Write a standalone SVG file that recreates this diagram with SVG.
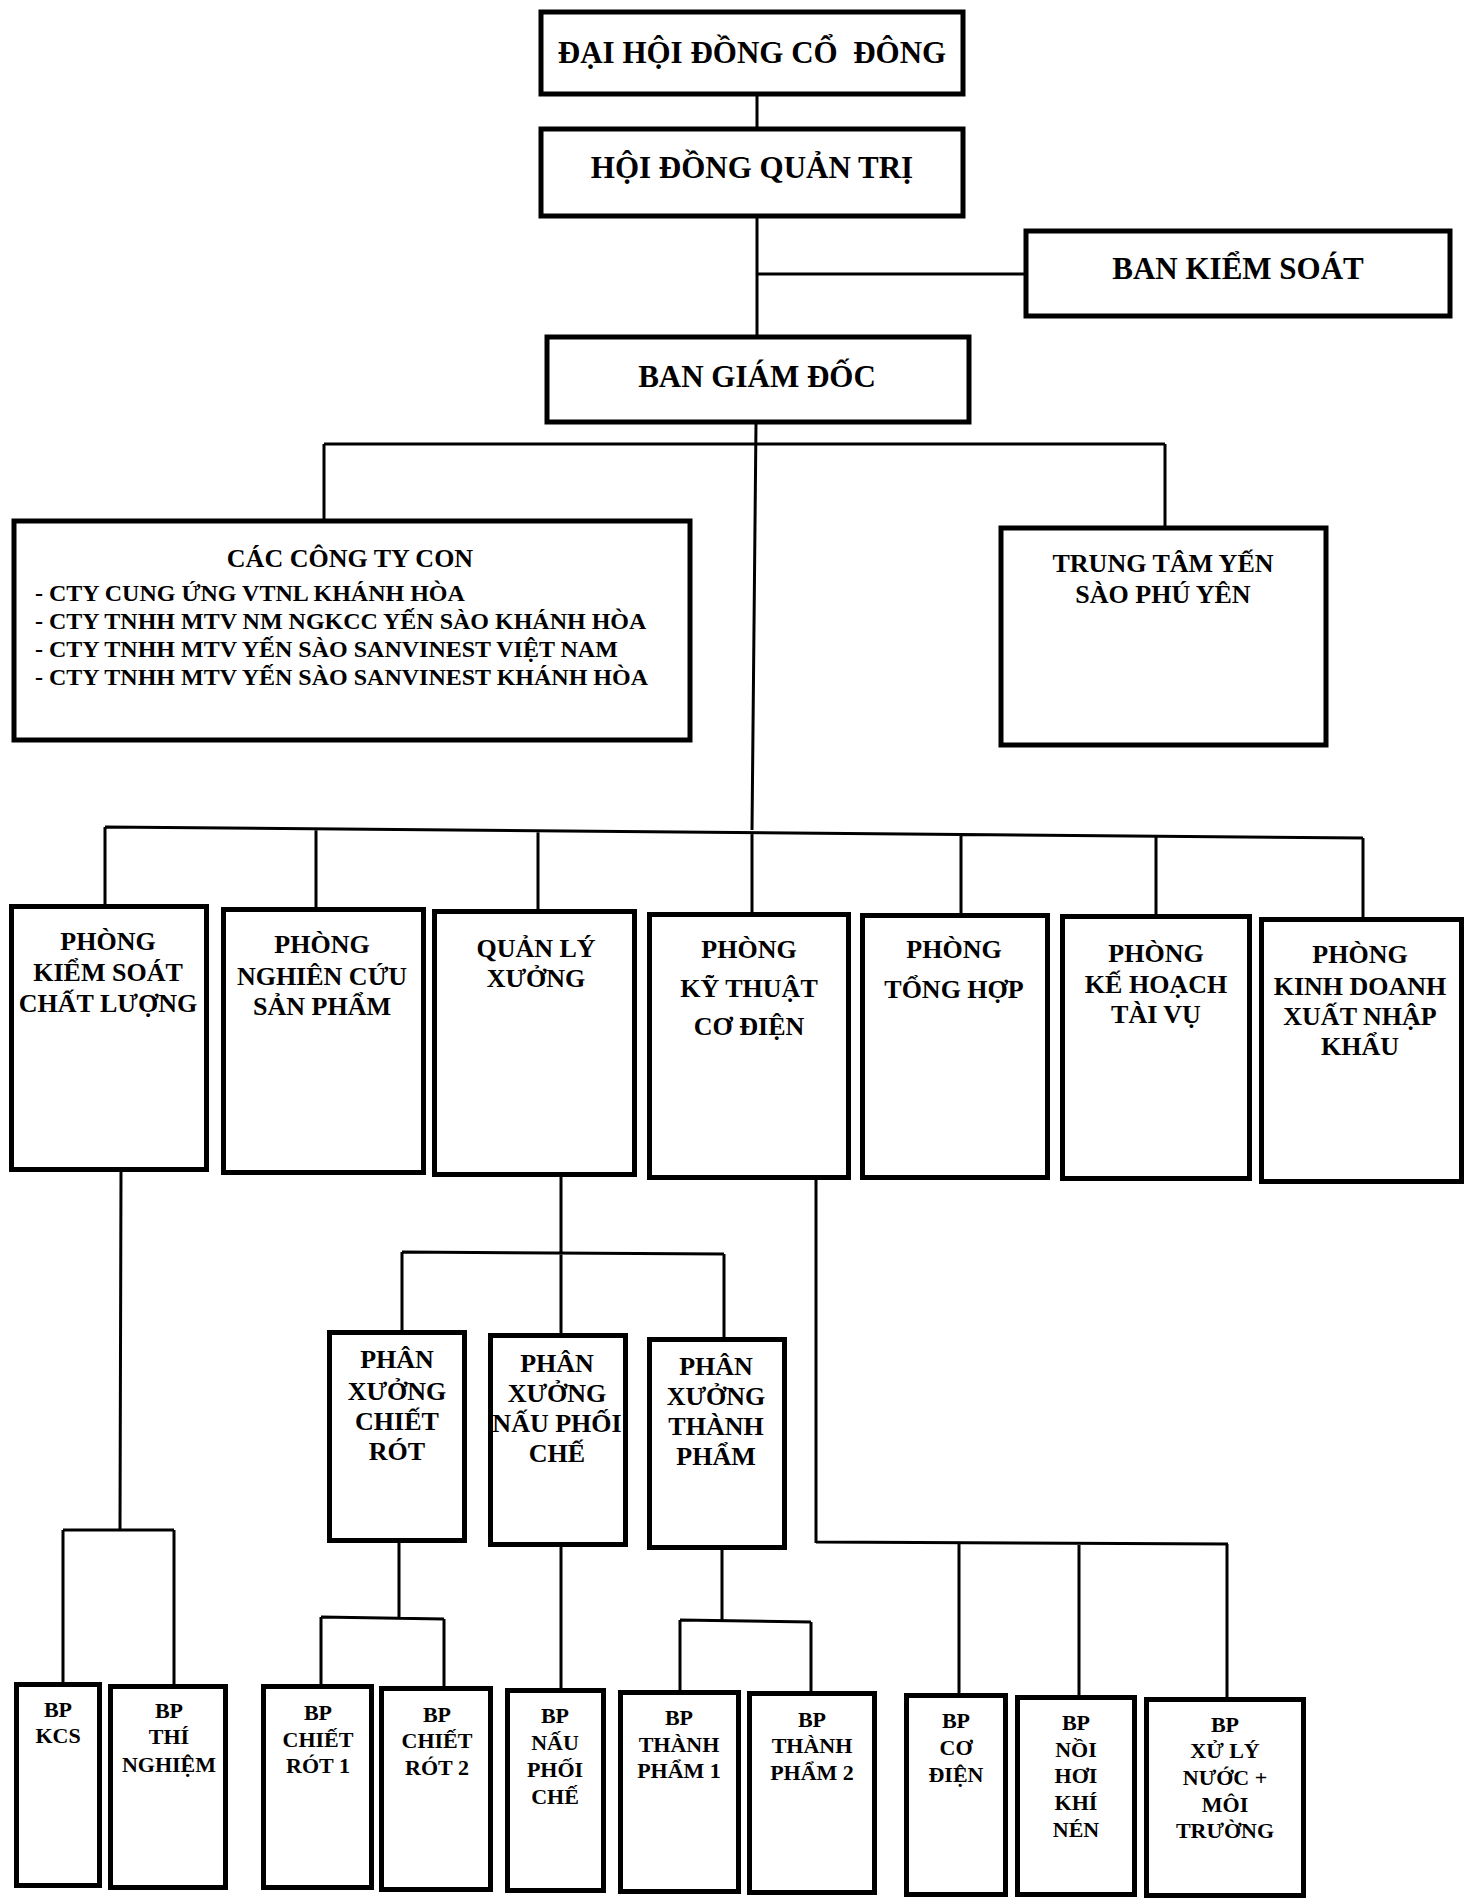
<svg xmlns="http://www.w3.org/2000/svg" width="1474" height="1898" viewBox="0 0 1474 1898">
<style>
.box{fill:#fff;stroke:#000;stroke-width:5}
.ln{stroke:#000;stroke-width:3;fill:none}
text{font-family:"Liberation Serif","Times New Roman",serif;font-weight:bold;fill:#000;text-anchor:middle}
.t1{font-size:31px}
.t2{font-size:26px}
.t3{font-size:24px;text-anchor:start}
.t4{font-size:22px}
</style>
<rect width="1474" height="1898" fill="#fff"/>
<g id="connectors">
<path class="ln" d="M757,94V129M757,216V337M757,274H1025M756,423L752,830"/>
<path class="ln" d="M324,444H1165M324,444V521M1165,444V528"/>
<path class="ln" d="M105,827L1363,838M105,827V906M316,829V909M538,831V911M752,833V914M961,834V915M1156,836V916M1363,838V919"/>
<path class="ln" d="M121,1172L120,1530M63,1530H174M63,1530V1683M174,1530V1685"/>
<path class="ln" d="M561,1177V1253M402,1252L724,1254M402,1252V1331M561,1253V1334M724,1254V1338"/>
<path class="ln" d="M816,1180V1543M816,1542L1228,1544M959,1543V1694M1079,1543V1696M1227,1544V1698"/>
<path class="ln" d="M399,1543V1618M321,1617L444,1619M321,1617V1685M444,1619V1687"/>
<path class="ln" d="M561,1547V1689"/>
<path class="ln" d="M722,1550V1621M680,1620L811,1622M680,1620V1691M811,1622V1692"/>
</g>
<g id="dai-hoi-dong-co-dong"><rect class="box" x="541" y="12" width="422" height="82"/><text class="t1" x="752" y="63" style="white-space:pre">ĐẠI HỘI ĐỒNG CỔ  ĐÔNG</text></g>
<g id="hoi-dong-quan-tri"><rect class="box" x="541" y="129" width="422" height="87"/><text class="t1" x="752" y="178">HỘI ĐỒNG QUẢN TRỊ</text></g>
<g id="ban-kiem-soat"><rect class="box" x="1026" y="231" width="424" height="85"/><text class="t1" x="1238" y="279">BAN KIỂM SOÁT</text></g>
<g id="ban-giam-doc"><rect class="box" x="547" y="337" width="422" height="85"/><text class="t1" x="757" y="387">BAN GIÁM ĐỐC</text></g>
<g id="cac-cong-ty-con"><rect class="box" x="14" y="521" width="676" height="219"/>
<text class="t2" x="350" y="567">CÁC CÔNG TY CON</text>
<text class="t3" x="35" y="601">- CTY CUNG ỨNG VTNL KHÁNH HÒA</text>
<text class="t3" x="35" y="629">- CTY TNHH MTV NM NGKCC YẾN SÀO KHÁNH HÒA</text>
<text class="t3" x="35" y="657">- CTY TNHH MTV YẾN SÀO SANVINEST VIỆT NAM</text>
<text class="t3" x="35" y="685">- CTY TNHH MTV YẾN SÀO SANVINEST KHÁNH HÒA</text></g>
<g id="trung-tam-yen-sao-phu-yen"><rect class="box" x="1001" y="528" width="325" height="217"/><text class="t2"><tspan x="1163" y="572">TRUNG TÂM YẾN</tspan><tspan x="1163" y="603">SÀO PHÚ YÊN</tspan></text></g>
<g id="phong-kscl"><rect class="box" x="11.5" y="906.5" width="195" height="263"/><text class="t2"><tspan x="108" y="950">PHÒNG</tspan><tspan x="108" y="981">KIỂM SOÁT</tspan><tspan x="108" y="1012">CHẤT LƯỢNG</tspan></text></g>
<g id="phong-nckh"><rect class="box" x="223.5" y="909.5" width="200" height="263"/><text class="t2"><tspan x="322" y="953">PHÒNG</tspan><tspan x="322" y="985">NGHIÊN CỨU</tspan><tspan x="322" y="1015">SẢN PHẨM</tspan></text></g>
<g id="quan-ly-xuong"><rect class="box" x="434.5" y="911.5" width="200" height="263"/><text class="t2"><tspan x="536" y="957">QUẢN LÝ</tspan><tspan x="536" y="987">XƯỞNG</tspan></text></g>
<g id="phong-ktcd"><rect class="box" x="649.5" y="914.5" width="199" height="263"/><text class="t2"><tspan x="749" y="958">PHÒNG</tspan><tspan x="749" y="997">KỸ THUẬT</tspan><tspan x="749" y="1035">CƠ ĐIỆN</tspan></text></g>
<g id="phong-tong-hop"><rect class="box" x="862.5" y="915.5" width="185" height="262"/><text class="t2"><tspan x="954" y="958">PHÒNG</tspan><tspan x="954" y="998">TỔNG HỢP</tspan></text></g>
<g id="phong-khtv"><rect class="box" x="1062.5" y="916.5" width="187" height="262"/><text class="t2"><tspan x="1156" y="962">PHÒNG</tspan><tspan x="1156" y="993">KẾ HOẠCH</tspan><tspan x="1156" y="1023">TÀI VỤ</tspan></text></g>
<g id="phong-kdxnk"><rect class="box" x="1261.5" y="919.5" width="200" height="262"/><text class="t2"><tspan x="1360" y="963">PHÒNG</tspan><tspan x="1360" y="995">KINH DOANH</tspan><tspan x="1360" y="1025">XUẤT NHẬP</tspan><tspan x="1360" y="1055">KHẨU</tspan></text></g>
<g id="px-chiet-rot"><rect class="box" x="329.5" y="1332.5" width="135" height="208"/><text class="t2"><tspan x="397" y="1368">PHÂN</tspan><tspan x="397" y="1400">XƯỞNG</tspan><tspan x="397" y="1430">CHIẾT</tspan><tspan x="397" y="1460">RÓT</tspan></text></g>
<g id="px-nau-phoi-che"><rect class="box" x="490.5" y="1335.5" width="135" height="209"/><text class="t2"><tspan x="557" y="1372">PHÂN</tspan><tspan x="557" y="1402">XƯỞNG</tspan><tspan x="557" y="1432">NẤU PHỐI</tspan><tspan x="557" y="1462">CHẾ</tspan></text></g>
<g id="px-thanh-pham"><rect class="box" x="649.5" y="1339.5" width="135" height="208"/><text class="t2"><tspan x="716" y="1375">PHÂN</tspan><tspan x="716" y="1405">XƯỞNG</tspan><tspan x="716" y="1435">THÀNH</tspan><tspan x="716" y="1465">PHẨM</tspan></text></g>
<g id="bp-kcs"><rect class="box" x="16.5" y="1684.5" width="83" height="201"/><text class="t4"><tspan x="58" y="1717">BP</tspan><tspan x="58" y="1743">KCS</tspan></text></g>
<g id="bp-thi-nghiem"><rect class="box" x="110.5" y="1686.5" width="115" height="201"/><text class="t4"><tspan x="169" y="1718">BP</tspan><tspan x="169" y="1744">THÍ</tspan><tspan x="169" y="1772">NGHIỆM</tspan></text></g>
<g id="bp-chiet-rot-1"><rect class="box" x="263.5" y="1686.5" width="108" height="201"/><text class="t4"><tspan x="318" y="1720">BP</tspan><tspan x="318" y="1747">CHIẾT</tspan><tspan x="318" y="1773">RÓT 1</tspan></text></g>
<g id="bp-chiet-rot-2"><rect class="box" x="381.5" y="1688.5" width="109" height="201"/><text class="t4"><tspan x="437" y="1722">BP</tspan><tspan x="437" y="1748">CHIẾT</tspan><tspan x="437" y="1775">RÓT 2</tspan></text></g>
<g id="bp-nau-phoi-che"><rect class="box" x="507.5" y="1690.5" width="96" height="200"/><text class="t4"><tspan x="555" y="1723">BP</tspan><tspan x="555" y="1750">NẤU</tspan><tspan x="555" y="1777">PHỐI</tspan><tspan x="555" y="1804">CHẾ</tspan></text></g>
<g id="bp-thanh-pham-1"><rect class="box" x="620.5" y="1692.5" width="118" height="199"/><text class="t4"><tspan x="679" y="1725">BP</tspan><tspan x="679" y="1752">THÀNH</tspan><tspan x="679" y="1778">PHẨM 1</tspan></text></g>
<g id="bp-thanh-pham-2"><rect class="box" x="749.5" y="1693.5" width="125" height="199"/><text class="t4"><tspan x="812" y="1727">BP</tspan><tspan x="812" y="1753">THÀNH</tspan><tspan x="812" y="1780">PHẨM 2</tspan></text></g>
<g id="bp-co-dien"><rect class="box" x="906.5" y="1695.5" width="99" height="199"/><text class="t4"><tspan x="956" y="1728">BP</tspan><tspan x="956" y="1755">CƠ</tspan><tspan x="956" y="1782">ĐIỆN</tspan></text></g>
<g id="bp-noi-hoi-khi-nen"><rect class="box" x="1017.5" y="1697.5" width="117" height="197"/><text class="t4"><tspan x="1076" y="1730">BP</tspan><tspan x="1076" y="1757">NỒI</tspan><tspan x="1076" y="1783">HƠI</tspan><tspan x="1076" y="1810">KHÍ</tspan><tspan x="1076" y="1837">NÉN</tspan></text></g>
<g id="bp-xu-ly-nuoc-moi-truong"><rect class="box" x="1146.5" y="1699.5" width="157" height="196"/><text class="t4"><tspan x="1225" y="1732">BP</tspan><tspan x="1225" y="1758">XỬ LÝ</tspan><tspan x="1225" y="1785">NƯỚC +</tspan><tspan x="1225" y="1812">MÔI</tspan><tspan x="1225" y="1838">TRƯỜNG</tspan></text></g>
</svg>
